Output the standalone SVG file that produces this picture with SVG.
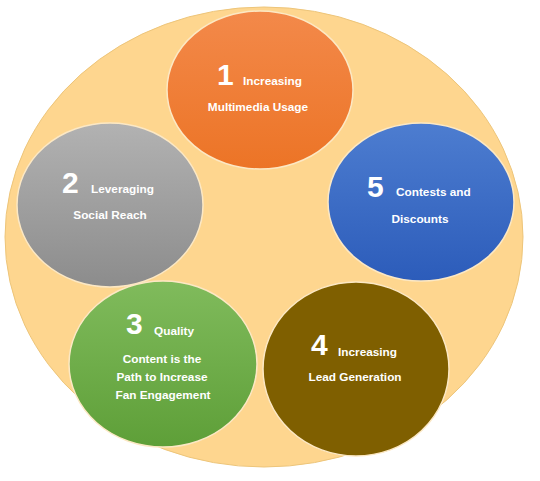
<svg xmlns="http://www.w3.org/2000/svg" width="540" height="481" viewBox="0 0 540 481">
<defs>
<linearGradient id="gOrange" x1="0" y1="0" x2="0" y2="1"><stop offset="0" stop-color="#F3894A"/><stop offset="1" stop-color="#EC7426"/></linearGradient>
<linearGradient id="gGray" x1="0" y1="0" x2="0" y2="1"><stop offset="0" stop-color="#B2B2B2"/><stop offset="1" stop-color="#8C8C8C"/></linearGradient>
<linearGradient id="gBlue" x1="0" y1="0" x2="0" y2="1"><stop offset="0" stop-color="#4D7DD0"/><stop offset="1" stop-color="#2C5CBA"/></linearGradient>
<linearGradient id="gGreen" x1="0" y1="0" x2="0" y2="1"><stop offset="0" stop-color="#80BB5C"/><stop offset="1" stop-color="#5E9F38"/></linearGradient>
<style>
.node ellipse{stroke:#FCE8C4;stroke-width:1.5}
.t{font-family:"Liberation Sans",Arial,sans-serif;font-weight:bold;fill:#FFFFFF;font-size:11.8px;text-anchor:middle}
.n{font-family:"Liberation Sans",Arial,sans-serif;font-weight:bold;fill:#FFFFFF;font-size:30px}
.s{text-anchor:start}
</style>
</defs>
<rect width="540" height="481" fill="#FFFFFF"/>
<ellipse cx="264" cy="237" rx="259" ry="230" fill="#FED68F" stroke="#EDC57A" stroke-width="1"/>
<g id="connectors"></g>
<g id="node1" class="node">
<ellipse cx="260" cy="90" rx="93" ry="79" fill="url(#gOrange)"/>
<text class="n" x="217" y="85">1</text>
<text class="t s" x="243" y="85">Increasing</text>
<text class="t" x="258" y="111">Multimedia Usage</text>
</g>
<g id="node2" class="node">
<ellipse cx="110" cy="205" rx="93" ry="82" fill="url(#gGray)"/>
<text class="n" x="62" y="193">2</text>
<text class="t s" x="91" y="193">Leveraging</text>
<text class="t" x="110" y="219">Social Reach</text>
</g>
<g id="node5" class="node">
<ellipse cx="421" cy="202" rx="93" ry="79" fill="url(#gBlue)"/>
<text class="n" x="367" y="197">5</text>
<text class="t s" x="396" y="196">Contests and</text>
<text class="t" x="420" y="223">Discounts</text>
</g>
<g id="node3" class="node">
<ellipse cx="163" cy="364" rx="94" ry="83" fill="url(#gGreen)"/>
<text class="n" x="126" y="334">3</text>
<text class="t s" x="154" y="335">Quality</text>
<text class="t" x="162" y="363">Content is the</text>
<text class="t" x="162" y="381">Path to Increase</text>
<text class="t" x="163" y="399">Fan Engagement</text>
</g>
<g id="node4" class="node">
<ellipse cx="356" cy="369" rx="93" ry="87" fill="#7F5F00"/>
<text class="n" x="311" y="355">4</text>
<text class="t s" x="338" y="356">Increasing</text>
<text class="t" x="355" y="381">Lead Generation</text>
</g>
</svg>
